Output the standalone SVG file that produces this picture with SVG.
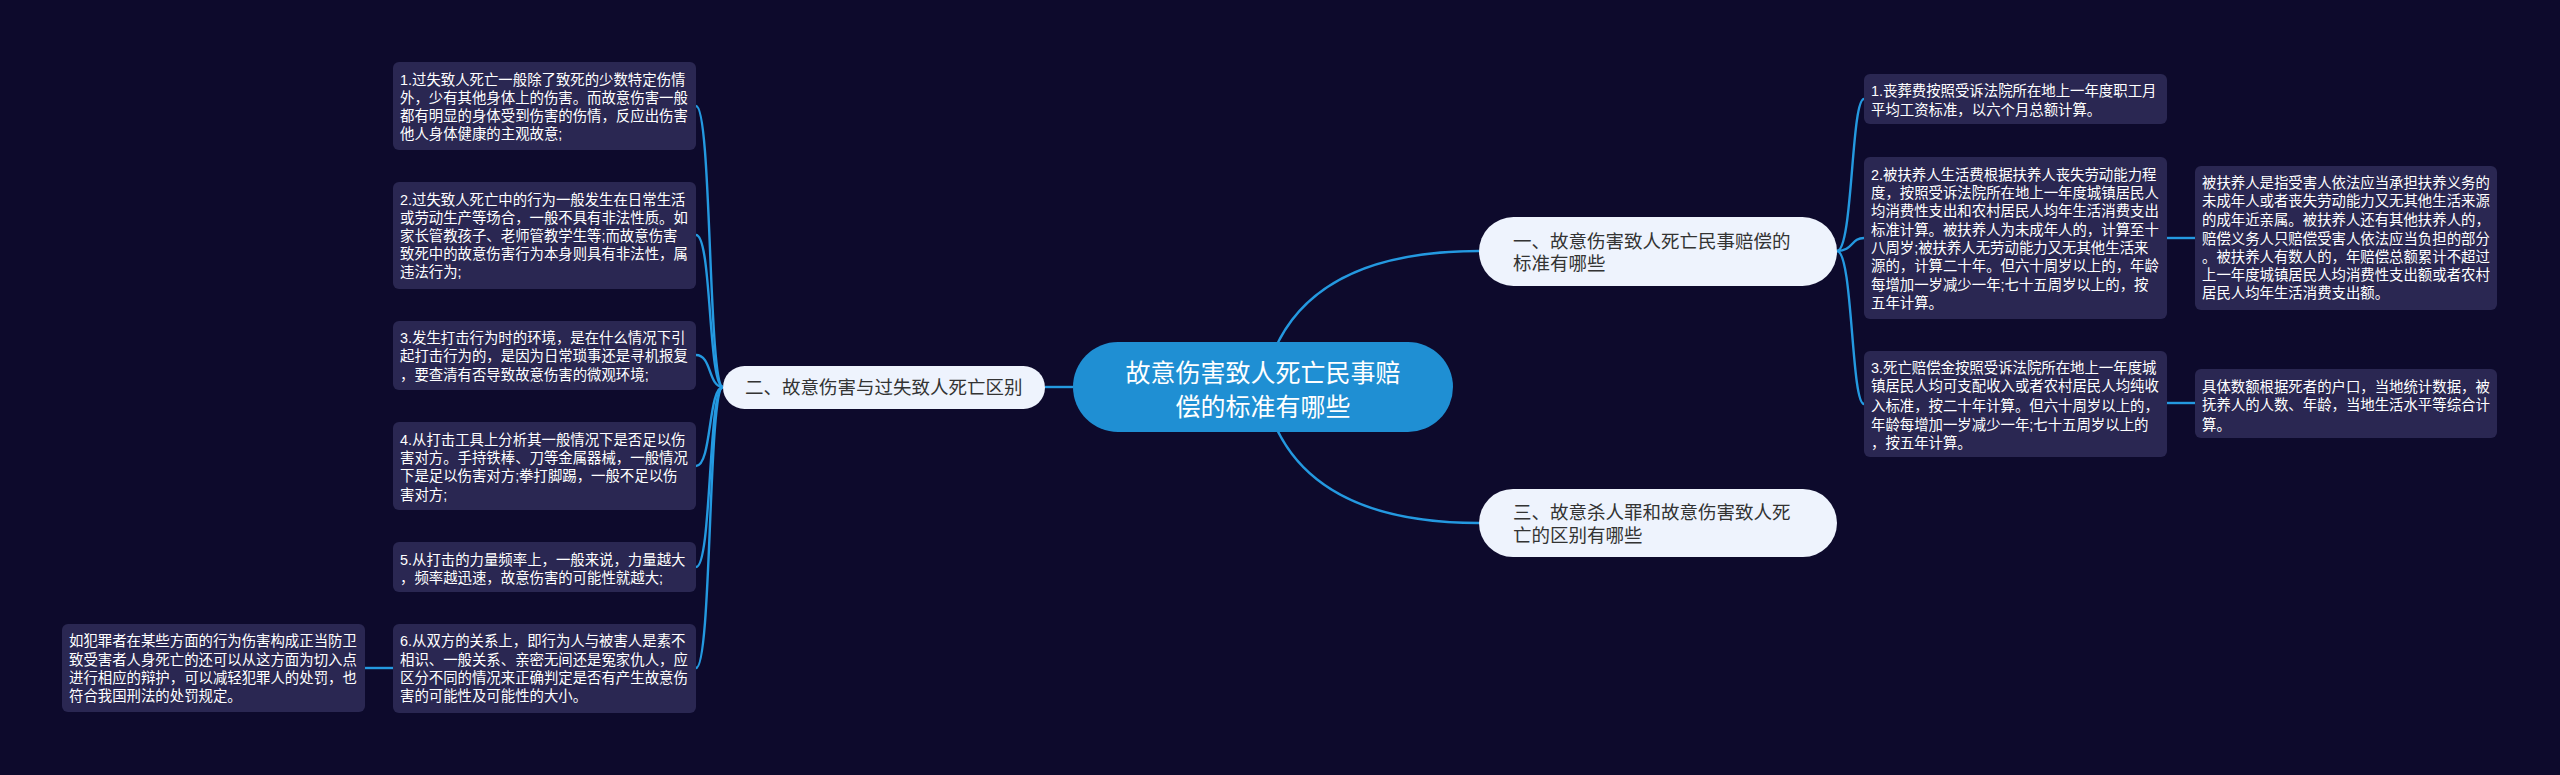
<svg xmlns="http://www.w3.org/2000/svg" width="2560" height="775" viewBox="0 0 2560 775">
<style>
.bg{fill:#0d0a2c}
.box{fill:#2a2752}
.bt{font-family:"Liberation Sans","Noto Sans CJK SC",sans-serif;font-size:14.4px;fill:#ffffff}
.pill{fill:#eef3fd}
.pt{font-family:"Liberation Sans","Noto Sans CJK SC",sans-serif;font-size:18.5px;fill:#333333}
.ct{font-family:"Liberation Sans","Noto Sans CJK SC",sans-serif;font-size:25px;fill:#ffffff}
.ln{fill:none;stroke:#2499e0;stroke-width:2.4}
</style>
<rect class="bg" x="0" y="0" width="2560" height="775"/>
<g id="connectors">
<path class="ln" d="M1263 387 Q1290 251 1479 251"/>
<path class="ln" d="M1263 387 Q1290 523 1479 523"/>
<path class="ln" d="M1073 387 L1045 387"/>
<path class="ln" d="M723 387 C708 387 712 106 696 106"/>
<path class="ln" d="M723 387 C708 387 712 235 696 235"/>
<path class="ln" d="M723 387 C708 387 712 355 696 355"/>
<path class="ln" d="M723 387 C708 387 712 466 696 466"/>
<path class="ln" d="M723 387 C708 387 712 567 696 567"/>
<path class="ln" d="M723 387 C708 387 712 668 696 668"/>
<path class="ln" d="M393 668 L365 668"/>
<path class="ln" d="M1837 251 C1853 251 1851 99 1864 99"/>
<path class="ln" d="M1837 251 C1853 251 1851 238 1864 238"/>
<path class="ln" d="M1837 251 C1853 251 1851 404 1864 404"/>
<path class="ln" d="M2167 238 L2195 238"/>
<path class="ln" d="M2167 403 L2195 403"/>
</g>
<g id="center">
<rect x="1073" y="342" width="380" height="90" rx="45" fill="#1f8fd3"/>
<text class="ct" x="1263" y="382" text-anchor="middle">故意伤害致人死亡民事赔</text>
<text class="ct" x="1263" y="416" text-anchor="middle">偿的标准有哪些</text>
</g>
<g id="n1">
<rect class="pill" x="1479" y="217" width="358" height="69" rx="34.5"/>
<text class="pt" x="1513" y="248">一、故意伤害致人死亡民事赔偿的</text>
<text class="pt" x="1513" y="270">标准有哪些</text>
</g>
<g id="n2">
<rect class="pill" x="723" y="366" width="322" height="43" rx="21.5"/>
<text class="pt" x="745" y="393.5">二、故意伤害与过失致人死亡区别</text>
</g>
<g id="n3">
<rect class="pill" x="1479" y="489" width="358" height="68" rx="34"/>
<text class="pt" x="1513" y="519">三、故意杀人罪和故意伤害致人死</text>
<text class="pt" x="1513" y="542">亡的区别有哪些</text>
</g>
<g id="l1">
<rect class="box" x="393" y="62" width="303" height="88" rx="6"/>
<text class="bt" x="400" y="85">1.过失致人死亡一般除了致死的少数特定伤情</text>
<text class="bt" x="400" y="103">外，少有其他身体上的伤害。而故意伤害一般</text>
<text class="bt" x="400" y="121">都有明显的身体受到伤害的伤情，反应出伤害</text>
<text class="bt" x="400" y="139">他人身体健康的主观故意;</text>
</g>
<g id="l2">
<rect class="box" x="393" y="182" width="303" height="107" rx="6"/>
<text class="bt" x="400" y="205">2.过失致人死亡中的行为一般发生在日常生活</text>
<text class="bt" x="400" y="223">或劳动生产等场合，一般不具有非法性质。如</text>
<text class="bt" x="400" y="241">家长管教孩子、老师管教学生等;而故意伤害</text>
<text class="bt" x="400" y="259">致死中的故意伤害行为本身则具有非法性，属</text>
<text class="bt" x="400" y="277">违法行为;</text>
</g>
<g id="l3">
<rect class="box" x="393" y="321" width="303" height="69" rx="6"/>
<text class="bt" x="400" y="343">3.发生打击行为时的环境，是在什么情况下引</text>
<text class="bt" x="400" y="361">起打击行为的，是因为日常琐事还是寻机报复</text>
<text class="bt" x="400" y="380">，要查清有否导致故意伤害的微观环境;</text>
</g>
<g id="l4">
<rect class="box" x="393" y="422" width="303" height="88" rx="6"/>
<text class="bt" x="400" y="445">4.从打击工具上分析其一般情况下是否足以伤</text>
<text class="bt" x="400" y="463">害对方。手持铁棒、刀等金属器械，一般情况</text>
<text class="bt" x="400" y="481">下是足以伤害对方;拳打脚踢，一般不足以伤</text>
<text class="bt" x="400" y="500">害对方;</text>
</g>
<g id="l5">
<rect class="box" x="393" y="542" width="303" height="50" rx="6"/>
<text class="bt" x="400" y="565">5.从打击的力量频率上，一般来说，力量越大</text>
<text class="bt" x="400" y="583">，频率越迅速，故意伤害的可能性就越大;</text>
</g>
<g id="l6">
<rect class="box" x="393" y="624" width="303" height="89" rx="6"/>
<text class="bt" x="400" y="646">6.从双方的关系上，即行为人与被害人是素不</text>
<text class="bt" x="400" y="665">相识、一般关系、亲密无间还是冤家仇人，应</text>
<text class="bt" x="400" y="683">区分不同的情况来正确判定是否有产生故意伤</text>
<text class="bt" x="400" y="701">害的可能性及可能性的大小。</text>
</g>
<g id="l6a">
<rect class="box" x="62" y="624" width="303" height="88" rx="6"/>
<text class="bt" x="69" y="646">如犯罪者在某些方面的行为伤害构成正当防卫</text>
<text class="bt" x="69" y="665">致受害者人身死亡的还可以从这方面为切入点</text>
<text class="bt" x="69" y="683">进行相应的辩护，可以减轻犯罪人的处罚，也</text>
<text class="bt" x="69" y="701">符合我国刑法的处罚规定。</text>
</g>
<g id="r1">
<rect class="box" x="1864" y="74" width="303" height="50" rx="6"/>
<text class="bt" x="1871" y="96">1.丧葬费按照受诉法院所在地上一年度职工月</text>
<text class="bt" x="1871" y="115">平均工资标准，以六个月总额计算。</text>
</g>
<g id="r2">
<rect class="box" x="1864" y="157" width="303" height="162" rx="6"/>
<text class="bt" x="1871" y="180">2.被扶养人生活费根据扶养人丧失劳动能力程</text>
<text class="bt" x="1871" y="198">度，按照受诉法院所在地上一年度城镇居民人</text>
<text class="bt" x="1871" y="216">均消费性支出和农村居民人均年生活消费支出</text>
<text class="bt" x="1871" y="235">标准计算。被扶养人为未成年人的，计算至十</text>
<text class="bt" x="1871" y="253">八周岁;被扶养人无劳动能力又无其他生活来</text>
<text class="bt" x="1871" y="271">源的，计算二十年。但六十周岁以上的，年龄</text>
<text class="bt" x="1871" y="290">每增加一岁减少一年;七十五周岁以上的，按</text>
<text class="bt" x="1871" y="308">五年计算。</text>
</g>
<g id="r3">
<rect class="box" x="1864" y="351" width="303" height="106" rx="6"/>
<text class="bt" x="1871" y="373">3.死亡赔偿金按照受诉法院所在地上一年度城</text>
<text class="bt" x="1871" y="391">镇居民人均可支配收入或者农村居民人均纯收</text>
<text class="bt" x="1871" y="411">入标准，按二十年计算。但六十周岁以上的，</text>
<text class="bt" x="1871" y="430">年龄每增加一岁减少一年;七十五周岁以上的</text>
<text class="bt" x="1871" y="448">，按五年计算。</text>
</g>
<g id="r2a">
<rect class="box" x="2195" y="166" width="302" height="144" rx="6"/>
<text class="bt" x="2202" y="188">被扶养人是指受害人依法应当承担扶养义务的</text>
<text class="bt" x="2202" y="206">未成年人或者丧失劳动能力又无其他生活来源</text>
<text class="bt" x="2202" y="225">的成年近亲属。被扶养人还有其他扶养人的，</text>
<text class="bt" x="2202" y="244">赔偿义务人只赔偿受害人依法应当负担的部分</text>
<text class="bt" x="2202" y="262">。被扶养人有数人的，年赔偿总额累计不超过</text>
<text class="bt" x="2202" y="280">上一年度城镇居民人均消费性支出额或者农村</text>
<text class="bt" x="2202" y="298">居民人均年生活消费支出额。</text>
</g>
<g id="r3a">
<rect class="box" x="2195" y="369" width="302" height="69" rx="6"/>
<text class="bt" x="2202" y="392">具体数额根据死者的户口，当地统计数据，被</text>
<text class="bt" x="2202" y="410">抚养人的人数、年龄，当地生活水平等综合计</text>
<text class="bt" x="2202" y="430">算。</text>
</g>
</svg>
